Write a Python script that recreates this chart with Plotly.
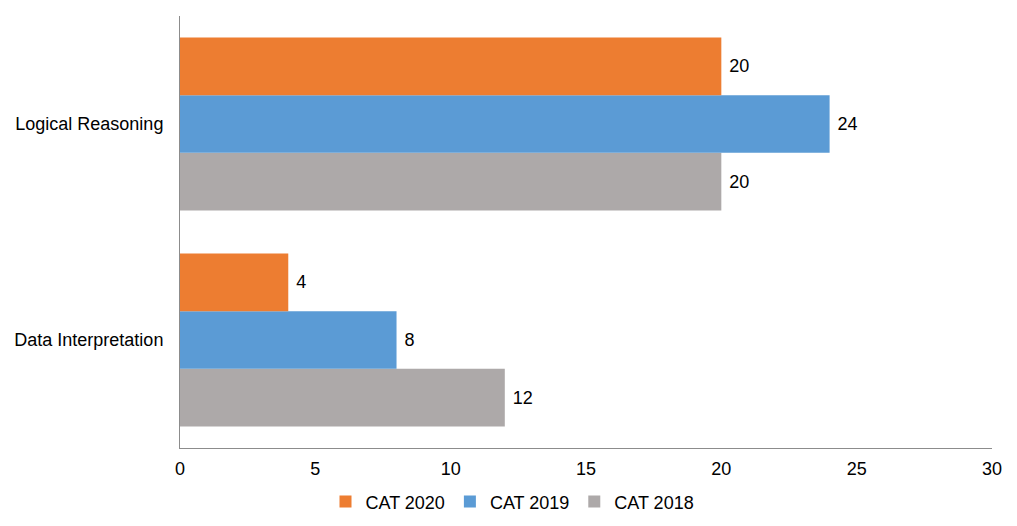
import plotly.graph_objects as go

categories = ["Data Interpretation", "Logical Reasoning"]
cat2020 = [4, 20]
cat2019 = [8, 24]
cat2018 = [12, 20]
x_ticks = [0, 5, 10, 15, 20, 25, 30]

series = [
    ("CAT 2018", cat2018, "#ADA9A9"),
    ("CAT 2019", cat2019, "#5B9BD5"),
    ("CAT 2020", cat2020, "#ED7D31"),
]

FONT = "Liberation Sans, Arial"

fig = go.Figure()
for name, vals, color in series:
    fig.add_trace(go.Bar(
        y=categories, x=vals, name=name, orientation="h",
        marker=dict(color=color, line=dict(width=0)),
        text=[str(v) for v in vals], texttemplate=" %{text}", textposition="outside",
        textfont=dict(size=18, color="#000000", family=FONT),
        cliponaxis=False,
    ))

fig.update_layout(
    barmode="group", bargap=0.2, bargroupgap=0,
    width=1009, height=518,
    margin=dict(l=172, r=25, t=8, b=78, autoexpand=False),
    paper_bgcolor="white", plot_bgcolor="white",
    font=dict(family=FONT, size=18, color="#000000"),
    legend=dict(orientation="h", xref="container", x=0.5, xanchor="center",
                y=-0.082, yanchor="top",
                traceorder="reversed", font=dict(size=18), itemwidth=30),
    showlegend=True,
)
fig.update_xaxes(range=[0, 30], tickvals=x_ticks, showgrid=False, zeroline=False,
                 showline=True, linecolor="#8C8C8C", linewidth=1, ticks="",
                 ticklabelstandoff=4, automargin=False)
fig.update_yaxes(range=[-0.5, 1.5], showgrid=False, zeroline=False,
                 showline=True, linecolor="#8C8C8C", linewidth=1, ticks="",
                 ticklabelstandoff=12, automargin=False)

fig.write_html("out.html")
